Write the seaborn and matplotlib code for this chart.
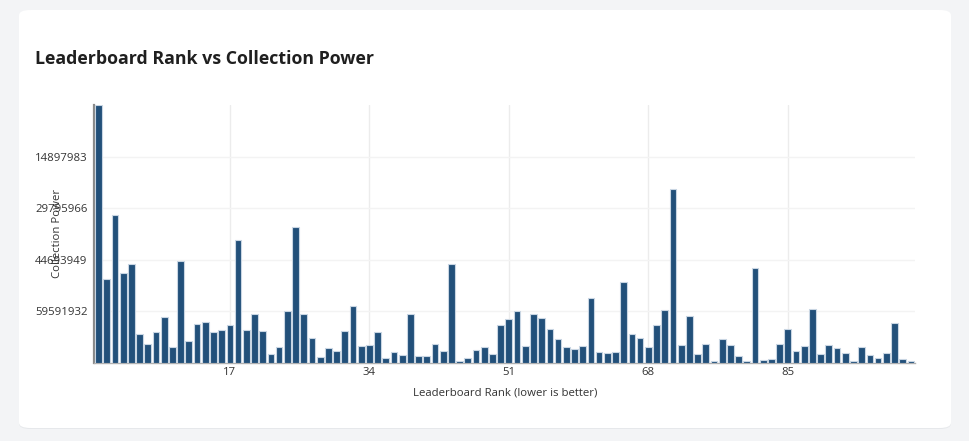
import matplotlib
matplotlib.use("Agg")
import matplotlib.pyplot as plt
from matplotlib.patches import FancyBboxPatch
import seaborn as sns
import pandas as pd

ranks = list(range(1, 101))
power_millions = [
    74.6, 24.1, 42.8, 25.9, 28.5, 8.5, 5.5, 8.9, 13.3, 4.6,
    29.5, 6.4, 11.2, 11.9, 8.9, 9.5, 11.0, 35.6, 9.5, 14.0,
    9.2, 2.5, 4.5, 14.9, 39.3, 14.0, 7.2, 1.6, 4.3, 3.4,
    9.2, 16.5, 4.8, 5.1, 8.9, 1.5, 3.1, 2.2, 14.0, 2.1,
    1.9, 5.5, 3.4, 28.6, 0.7, 1.5, 3.7, 4.5, 2.5, 11.0,
    12.8, 15.0, 4.8, 14.0, 13.1, 9.8, 7.0, 4.5, 4.0, 4.8,
    18.8, 3.3, 2.8, 3.3, 23.4, 8.3, 7.3, 4.5, 10.9, 15.3,
    50.2, 5.1, 13.6, 2.7, 5.5, 0.7, 7.0, 5.2, 2.1, 0.7,
    27.3, 0.9, 1.2, 5.4, 9.7, 3.4, 4.8, 15.5, 2.5, 5.1,
    4.3, 2.8, 0.45, 4.5, 2.4, 1.5, 2.8, 11.5, 1.2, 0.6,
]
power = [v * 1e6 for v in power_millions]
x_ticks = [17, 34, 51, 68, 85]
y_tick_values = [59591932, 44693949, 29795966, 14897983]
y_tick_labels = ["14897983", "29795966", "44693949", "59591932"]

title = "Leaderboard Rank vs Collection Power"
x_label = "Leaderboard Rank (lower is better)"
y_label = "Collection Power"

df = pd.DataFrame({"rank": ranks, "power": power})

sns.set_theme(style="white")
plt.rcParams["font.family"] = ["Open Sans", "DejaVu Sans"]

W, H = 970, 441
fig = plt.figure(figsize=(W / 100, H / 100), dpi=100)
fig.patch.set_facecolor("#f3f4f6")

# card with shadow
shadow = FancyBboxPatch((19 / W, (H - 429) / H), (951 - 19) / W, (429 - 11) / H,
                        boxstyle="round,pad=0,rounding_size=0.012",
                        transform=fig.transFigure, facecolor="#e6e8eb",
                        edgecolor="none", zorder=-2)
card = FancyBboxPatch((19 / W, (H - 428) / H), (951 - 19) / W, (428 - 10) / H,
                      boxstyle="round,pad=0,rounding_size=0.012",
                      transform=fig.transFigure, facecolor="white",
                      edgecolor="none", zorder=-1)
fig.patches.extend([shadow, card])

ax = fig.add_axes([94.5 / W, 1 - 363 / H, (915 - 94.5) / W, (363 - 104.5) / H])
ax.set_zorder(1)
ax.set_facecolor("none")

sns.barplot(data=df, x="rank", y="power", native_scale=True, ax=ax,
            color="#22507a", saturation=1, width=0.82,
            edgecolor="#c9d6e3", linewidth=0.8, zorder=3)

ax.set_xlim(0.5, 100.5)
ax.set_ylim(0, max(power))
ax.set_xticks(x_ticks)
ax.set_xticklabels([str(t) for t in x_ticks])
ax.set_yticks(y_tick_values)
ax.set_yticklabels(y_tick_labels)
ax.tick_params(axis="both", length=0, labelsize=8.2, colors="#333333", pad=5)
ax.tick_params(axis="x", pad=3)

ax.grid(True, axis="x", color="#ececec", linewidth=1, zorder=0)
ax.grid(True, axis="y", color="#f3f3f3", linewidth=1, zorder=0)
ax.set_axisbelow(True)

for s in ["top", "right"]:
    ax.spines[s].set_visible(False)
ax.spines["left"].set_color("#8a8a8a")
ax.spines["left"].set_linewidth(1.6)
ax.spines["bottom"].set_color("#b0b0b0")
ax.spines["bottom"].set_linewidth(1.0)

ax.set_xlabel(x_label, fontsize=8.2, color="#333333", labelpad=7)
ax.set_ylabel("")
fig.text(57.5 / W, 1 - 233 / H, y_label, rotation=90, ha="center", va="center",
         fontsize=8.2, color="#333333", zorder=5)

fig.text(35 / W, 1 - 59 / H, title, ha="left", va="center", fontsize=12.8,
         fontweight="bold", color="#1f1f1f")

fig.savefig("out.png", dpi=100, facecolor=fig.get_facecolor())
